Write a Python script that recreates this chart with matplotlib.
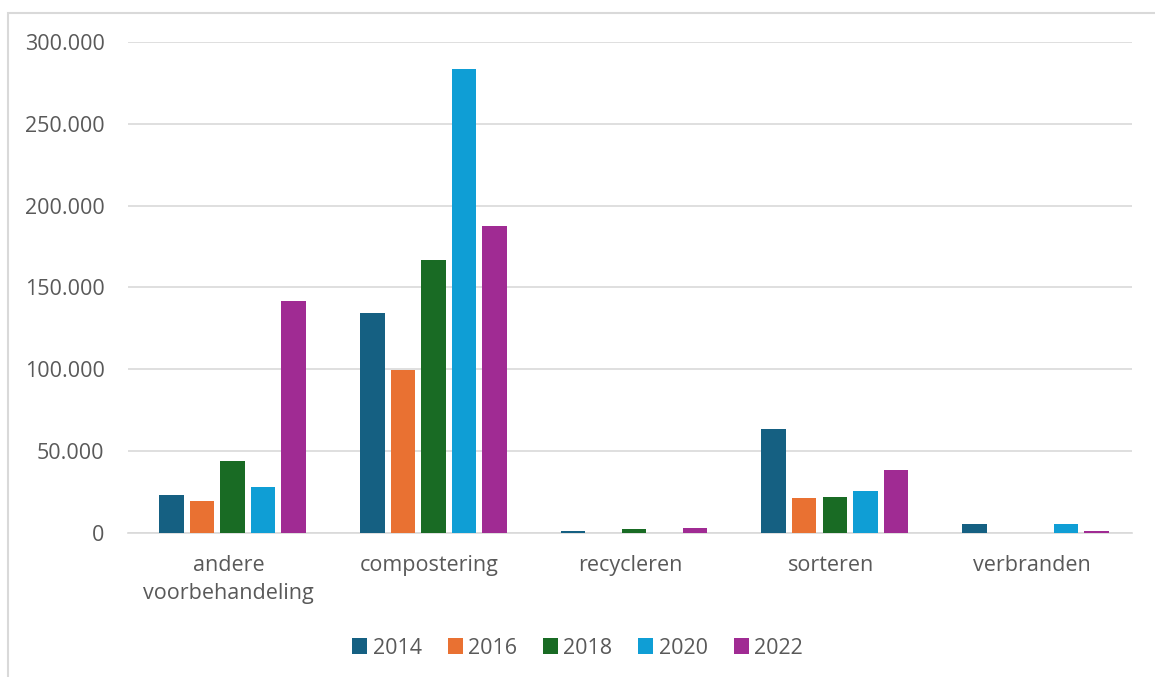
import numpy as np
import matplotlib.pyplot as plt
from matplotlib.patches import Rectangle
from matplotlib.ticker import FuncFormatter

# categories and yearly values
categories = ["andere\nvoorbehandeling", "compostering", "recycleren", "sorteren", "verbranden"]
years = ["2014", "2016", "2018", "2020", "2022"]
v2014 = [23200, 134400, 1200, 63500, 5700]
v2016 = [19500, 99600, 0, 21400, 0]
v2018 = [44000, 166800, 2300, 22000, 0]
v2020 = [28000, 283500, 0, 25700, 5700]
v2022 = [141700, 187600, 3300, 38500, 1200]
series = [v2014, v2016, v2018, v2020, v2022]
colors = ["#156082", "#E97132", "#196B24", "#0F9ED5", "#A02B93"]

plt.rcParams['font.family'] = ['Open Sans', 'DejaVu Sans']
text_col = "#595959"
fs = 15.5

fig = plt.figure(figsize=(11.55, 6.77), dpi=100)
ax = fig.add_axes([0.111, 0.2127, 0.869, 0.7253])

x = np.arange(len(categories))
pitch = 0.152
width = 0.122
for i, (vals, col) in enumerate(zip(series, colors)):
    ax.bar(x + (i - 1.87) * pitch, vals, width, color=col, label=years[i], zorder=3)

ax.set_xlim(-0.5, len(categories) - 0.5)
ax.set_ylim(0, 300000)
ax.set_yticks(np.arange(0, 300001, 50000))
ax.yaxis.set_major_formatter(FuncFormatter(lambda v, p: f"{int(v):,}".replace(",", ".")))
ax.set_xticks(x)
ax.set_xticklabels(categories, fontsize=fs, color=text_col, linespacing=1.4)
ax.tick_params(axis='y', labelsize=fs, labelcolor=text_col, length=0, pad=17)
ax.tick_params(axis='x', length=0, pad=16)
ax.grid(axis='y', color="#d9d9d9", linewidth=1.2, zorder=0)
for s in ["top", "right", "left"]:
    ax.spines[s].set_visible(False)
ax.spines["bottom"].set_color("#d9d9d9")
ax.spines["bottom"].set_linewidth(1.2)

ax.legend(loc="center", bbox_to_anchor=(0.5, (677 - 648) / 677), bbox_transform=fig.transFigure,
          ncol=5, frameon=False, fontsize=fs, labelcolor=text_col,
          handlelength=0.7, handleheight=0.7, handletextpad=0.25, columnspacing=1.2)

# chart border (left and top visible)
fig.patches.append(Rectangle((8 / 1155, -0.1), 1.1, 1.1 - 13 / 677, transform=fig.transFigure,
                             fill=False, edgecolor="#d9d9d9", linewidth=1.5))

fig.savefig("out.png", dpi=100)
